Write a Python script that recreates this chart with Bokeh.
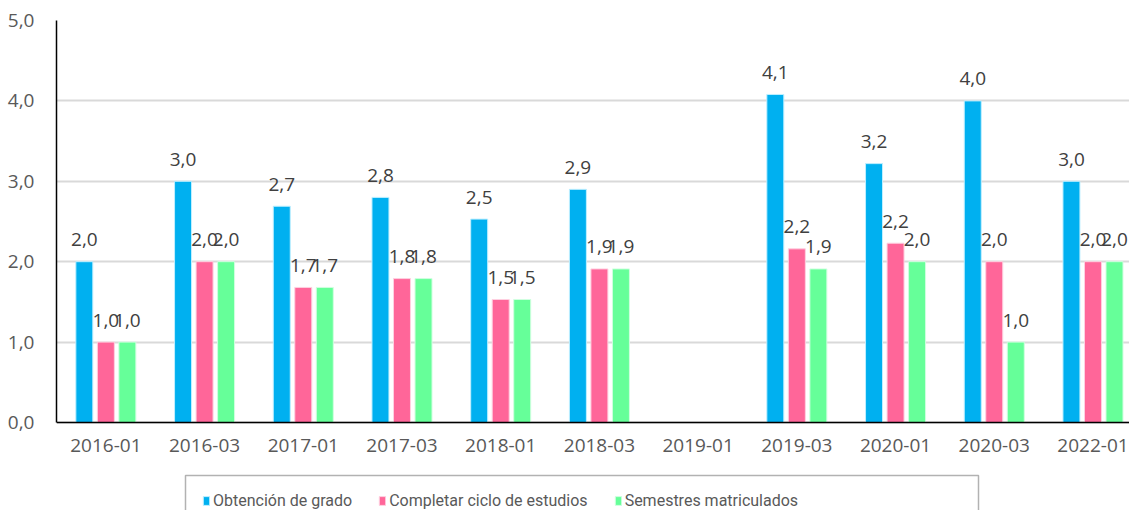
from bokeh.plotting import figure
from bokeh.models import ColumnDataSource, FixedTicker, Legend, LegendItem, Range1d, BoxAnnotation
from bokeh.core.properties import value
from bokeh.embed import file_html
from bokeh.resources import INLINE

categories = ["2016-01", "2016-03", "2017-01", "2017-03", "2018-01", "2018-03",
              "2019-01", "2019-03", "2020-01", "2020-03", "2022-01"]
obtencion = [2.0, 3.0, 2.69, 2.8, 2.53, 2.9, None, 4.08, 3.22, 4.0, 3.0]
completar = [1.0, 2.0, 1.68, 1.79, 1.53, 1.91, None, 2.16, 2.23, 2.0, 2.0]
semestres = [1.0, 2.0, 1.68, 1.79, 1.53, 1.91, None, 1.91, 2.0, 1.0, 2.0]
series_names = ["Obtención de grado", "Completar ciclo de estudios", "Semestres matriculados"]
y_ticks = [0, 1, 2, 3, 4, 5]

colors = ["#00B0F0", "#FF6699", "#66FF99"]
outline = ["#BFEFFF", "#FFD0E0", "#D0FFE0"]
offsets = [-0.218, 0.0, 0.218]
bar_w = 0.172

FONT = "Open Sans"

# layout constants (pixels)
FRAME_W, PLOT_H, EXTRA_H = 1073, 402, 88
X0, X1 = -0.5, 10.37
PX_X = FRAME_W / (X1 - X0)
PX_Y = PLOT_H / 5.0

p = figure(frame_width=FRAME_W, frame_height=PLOT_H + EXTRA_H,
           min_border_left=56, min_border_top=20,
           min_border_right=0, min_border_bottom=0,
           x_range=Range1d(X0, X1), y_range=Range1d(-EXTRA_H / PX_Y, 5),
           output_backend="svg", toolbar_location=None)
p.outline_line_color = None
p.background_fill_color = "white"

p.ygrid.ticker = FixedTicker(ticks=y_ticks)
p.ygrid.grid_line_color = "#D9D9D9"
p.ygrid.grid_line_width = 2
p.xgrid.grid_line_color = None

p.yaxis.ticker = FixedTicker(ticks=y_ticks)
p.yaxis.bounds = (0, 5)
p.yaxis.major_label_overrides = {t: f"{t:.1f}".replace(".", ",") for t in y_ticks}
p.xaxis.ticker = FixedTicker(ticks=list(range(len(categories))))
p.xaxis.major_label_overrides = {i: c for i, c in enumerate(categories)}
p.xaxis.fixed_location = 0
for ax in (p.xaxis, p.yaxis):
    ax.major_tick_line_color = None
    ax.minor_tick_line_color = None
    ax.axis_line_color = "#000000"
    ax.axis_line_width = 1.5
    ax.major_label_text_font = FONT
    ax.major_label_text_font_size = "19px"
    ax.major_label_text_color = "#595959"
p.yaxis.major_label_standoff = 16
p.xaxis.major_label_standoff = 10

renderers = []
for k, vals in enumerate([obtencion, completar, semestres]):
    xs = [i + offsets[k] for i, v in enumerate(vals) if v is not None]
    ys = [v for v in vals if v is not None]
    labels = [f"{v:.1f}".replace(".", ",") for v in ys]
    src = ColumnDataSource(dict(x=xs, top=ys, label=labels))
    r = p.vbar(x="x", top="top", width=bar_w, bottom=0, source=src,
               fill_color=colors[k], line_color=outline[k], line_width=1)
    renderers.append(r)
    p.text(x="x", y="top", text="label", source=src, text_align="center",
           text_baseline="middle", y_offset=-22, text_font=value(FONT),
           text_font_size="19px", text_color="#404040")

# legend frame (box from x=185 to x=978 px, top at 53 px below the x axis, cut at the bottom)
box = BoxAnnotation(left=X0 + (185 - 56) / PX_X, right=X0 + (978 - 56) / PX_X,
                    top=-53 / PX_Y, bottom=-(EXTRA_H + 20) / PX_Y,
                    fill_color=None, fill_alpha=0, line_color="#000000", line_width=1.5)
p.add_layout(box)

legend = Legend(items=[LegendItem(label=series_names[k], renderers=[renderers[k]]) for k in range(3)],
                orientation="horizontal", location=(146, 0))
legend.label_text_font = "Roboto"
legend.label_text_font_size = "16px"
legend.label_text_color = "#595959"
legend.glyph_width = 8
legend.glyph_height = 11
legend.label_standoff = 3
legend.spacing = 26
legend.margin = 0
legend.border_line_color = None
legend.label_height = 18
legend.padding = 8
legend.background_fill_alpha = 0
p.add_layout(legend, "center")

open("out.html", "w").write(file_html(p, INLINE))
